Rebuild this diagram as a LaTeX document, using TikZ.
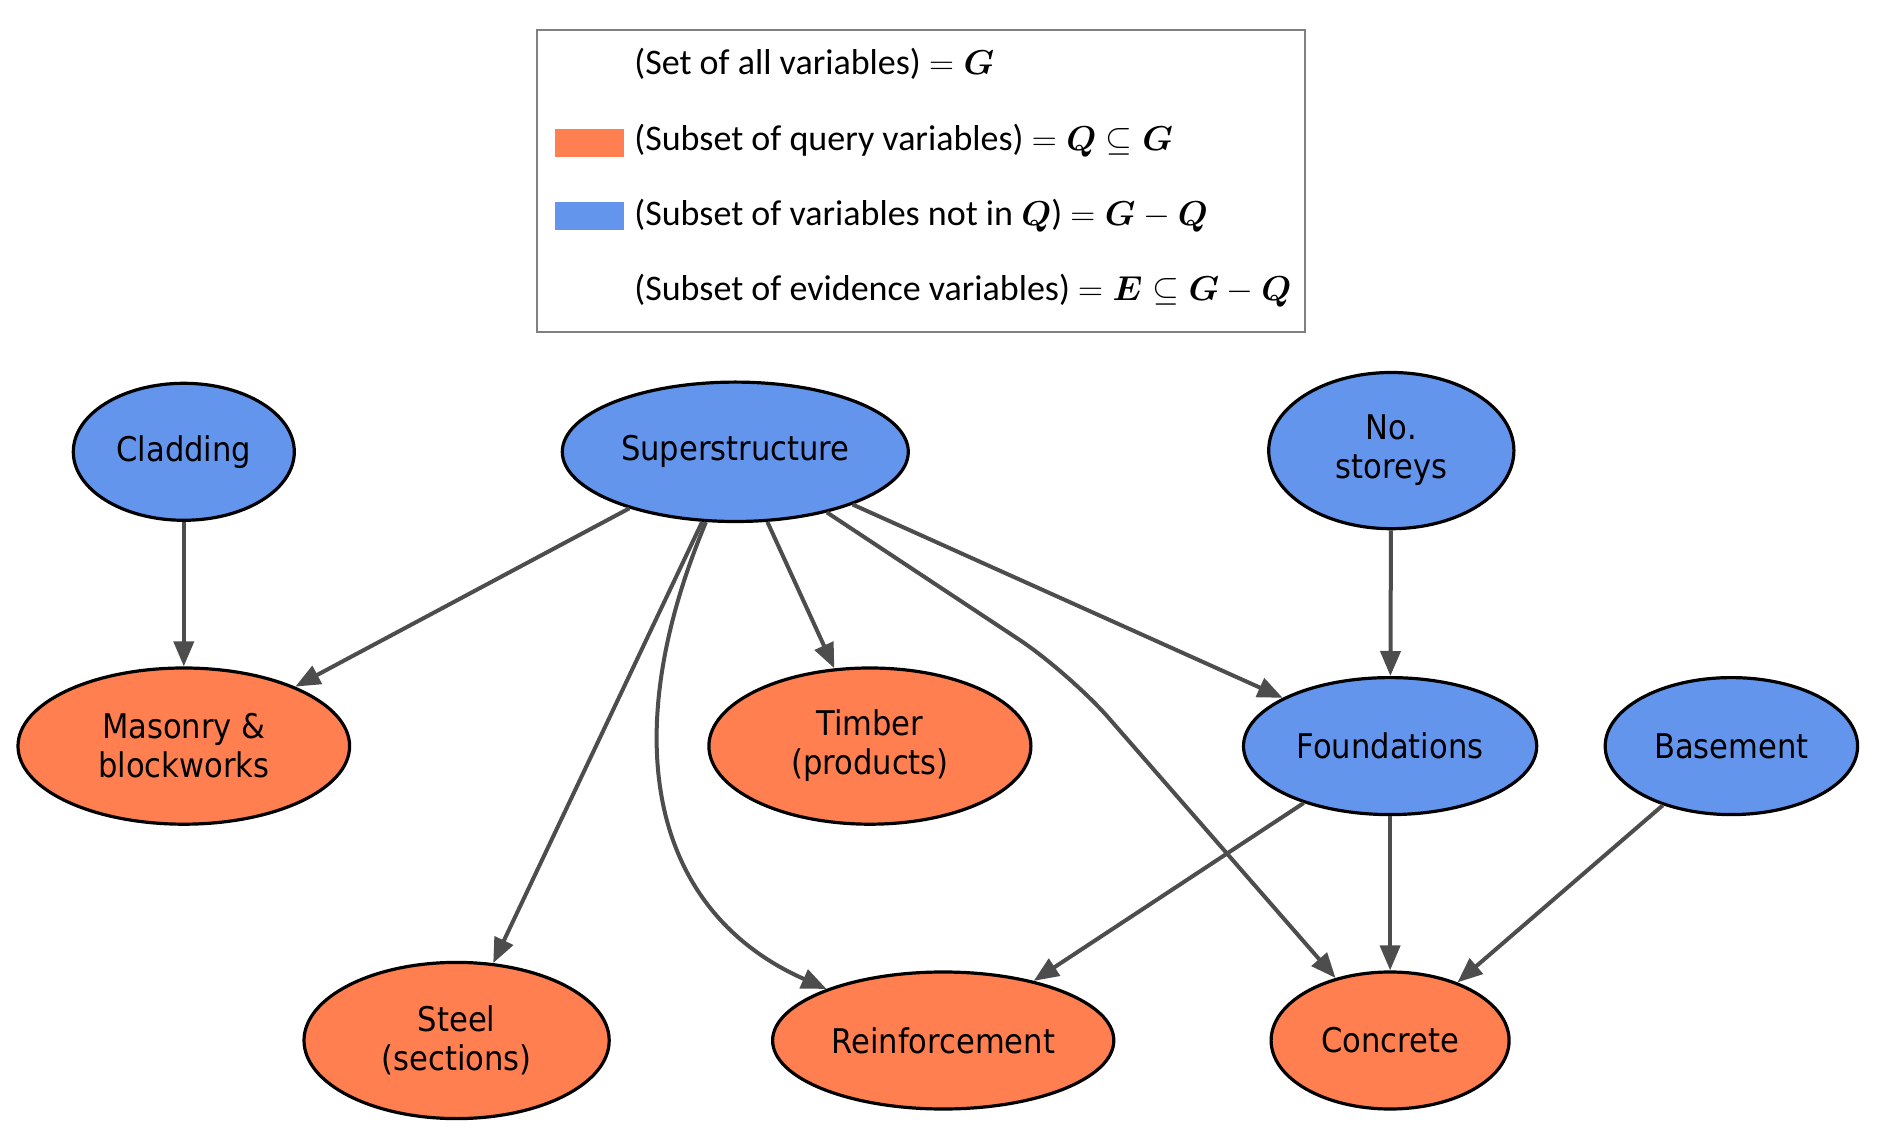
\documentclass[tikz,border=0pt]{standalone}
\usepackage{fontspec}
\usepackage{amsmath}
\usetikzlibrary{shapes.geometric,arrows.meta}
\newfontfamily\nodefont[FakeStretch=0.9]{DejaVu Sans}
\newfontfamily\legfont{Carlito}
\definecolor{qorange}{HTML}{FF7F50}
\definecolor{nblue}{HTML}{6495ED}
\definecolor{edgegray}{HTML}{4D4D4D}
\definecolor{boxgray}{HTML}{808080}
\begin{document}
\begin{tikzpicture}[x=0.5pt,y=-0.5pt,
  var/.style={ellipse,draw=black,line width=1.6pt,inner sep=0pt,align=center,
    font=\nodefont\fontsize{17}{19.5}\selectfont},
  qvar/.style={var,fill=qorange},
  nvar/.style={var,fill=nblue},
  edge/.style={draw=edgegray,line width=2pt,-{Triangle[length=12.5pt,width=10pt]}},
  legtext/.style={anchor=west,inner sep=0pt,font=\legfont\fontsize{18}{21}\selectfont},
  swatch/.style={inner sep=0pt,minimum width=34.5pt,minimum height=14pt}
]
\useasboundingbox (0,0) rectangle (1884,1143);
\fill[white] (0,0) rectangle (1884,1143);

% legend
\node[draw=boxgray,line width=0.8pt,inner sep=0pt,minimum width=384pt,minimum height=151pt] (legend) at (921,181) {};
\node[swatch,fill=qorange] (swq) at (589.5,143) {};
\node[swatch,fill=nblue] (swn) at (589.5,216.5) {};
\node[legtext] (l1) at (634,64) {(Set of all variables) $=\boldsymbol{G}$};
\node[legtext] (l2) at (634,141) {(Subset of query variables) $=\boldsymbol{Q}\subseteq\boldsymbol{G}$};
\node[legtext] (l3) at (634,216) {(Subset of variables not in $\boldsymbol{Q}$) $=\boldsymbol{G}-\boldsymbol{Q}$};
\node[legtext] (l4) at (634,291) {(Subset of evidence variables) $=\boldsymbol{E}\subseteq\boldsymbol{G}-\boldsymbol{Q}$};

% nodes
\node[nvar,minimum width=110.5pt,minimum height=68.5pt] (clad) at (183.8,451.8) {Cladding};
\node[nvar,minimum width=173pt,minimum height=69.7pt] (super) at (735.3,451.8) {Superstructure};
\node[nvar,minimum width=122.6pt,minimum height=78.1pt] (nost) at (1391.3,450.6) {No.\\storeys};
\node[qvar,minimum width=165.8pt,minimum height=78.1pt] (mason) at (183.8,746.1) {Masonry \&\\blockworks};
\node[qvar,minimum width=161pt,minimum height=78.1pt] (timber) at (869.9,746.1) {Timber\\(products)};
\node[nvar,minimum width=146.6pt,minimum height=68.5pt] (found) at (1390.1,746.1) {Foundations};
\node[nvar,minimum width=126.2pt,minimum height=68.5pt] (base) at (1731.4,746.1) {Basement};
\node[qvar,minimum width=152.6pt,minimum height=78.1pt] (steel) at (456.6,1040.5) {Steel\\(sections)};
\node[qvar,minimum width=170.6pt,minimum height=68.5pt] (reinf) at (943.2,1040.5) {Reinforcement};
\node[qvar,minimum width=119pt,minimum height=68.5pt] (conc) at (1390.1,1040.5) {Concrete};

\coordinate (bendc) at (1069.3,672.8);
\coordinate (rc1) at (612.8,744.9);
\coordinate (rc2) at (654.8,913.1);

% edges
\draw[edge] (clad) -- (mason);
\draw[edge] (super) -- (mason);
\draw[edge] (super) -- (steel);
\draw[edge] (super) .. controls (rc1) and (rc2) .. (reinf);
\draw[edge] (super) -- (timber);
\draw[edge,rounded corners=30pt] (super) -- (bendc) -- (conc);
\draw[edge] (super) -- (found);
\draw[edge] (nost) -- (found);
\draw[edge] (found) -- (reinf);
\draw[edge] (found) -- (conc);
\draw[edge] (base) -- (conc);
\end{tikzpicture}
\end{document}
